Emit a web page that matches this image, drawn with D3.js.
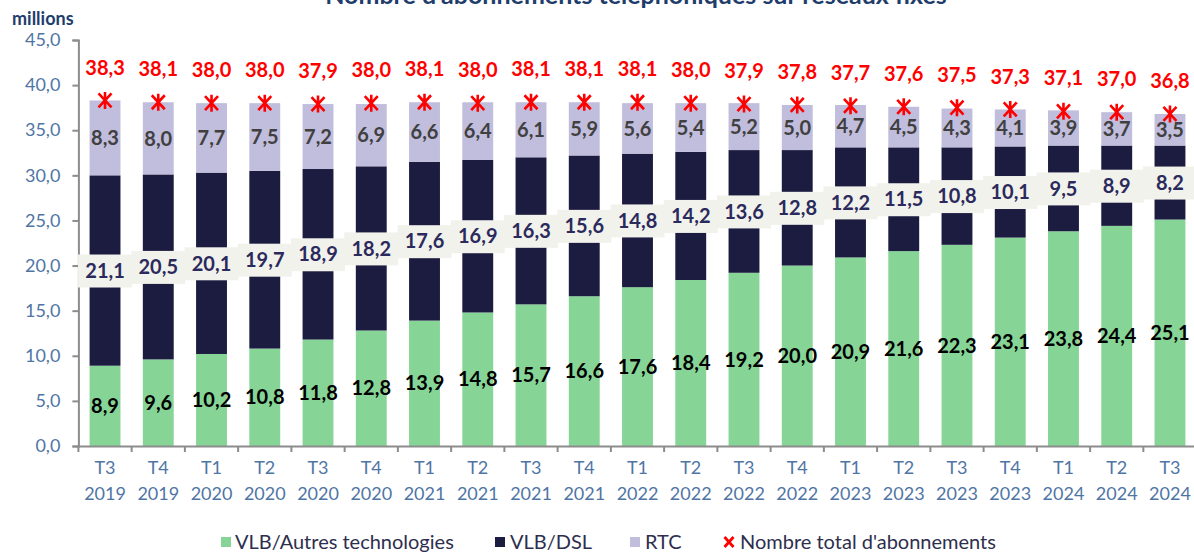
<!DOCTYPE html>
<html><head><meta charset="utf-8">
<script src="https://cdn.jsdelivr.net/npm/d3@7"></script>
<style>
html,body{margin:0;padding:0;background:#fff;}
svg{display:block;}
text{font-family:Lato,"Open Sans",sans-serif;}
</style></head>
<body>
<svg id="chart" width="1194" height="554"></svg>
<script>
const quarters = ["T3","T4","T1","T2","T3","T4","T1","T2","T3","T4","T1","T2","T3","T4","T1","T2","T3","T4","T1","T2","T3"];
const years = ["2019","2019","2020","2020","2020","2020","2021","2021","2021","2021","2022","2022","2022","2022","2023","2023","2023","2023","2024","2024","2024"];
const vlbAutres = [8.9,9.6,10.2,10.8,11.8,12.8,13.9,14.8,15.7,16.6,17.6,18.4,19.2,20.0,20.9,21.6,22.3,23.1,23.8,24.4,25.1];
const vlbDsl = [21.1,20.5,20.1,19.7,18.9,18.2,17.6,16.9,16.3,15.6,14.8,14.2,13.6,12.8,12.2,11.5,10.8,10.1,9.5,8.9,8.2];
const rtc = [8.3,8.0,7.7,7.5,7.2,6.9,6.6,6.4,6.1,5.9,5.6,5.4,5.2,5.0,4.7,4.5,4.3,4.1,3.9,3.7,3.5];
const totals = [38.3,38.1,38.0,38.0,37.9,38.0,38.1,38.0,38.1,38.1,38.1,38.0,37.9,37.8,37.7,37.6,37.5,37.3,37.1,37.0,36.8];
const seriesNames = ["VLB/Autres technologies","VLB/DSL","RTC"];
const totalName = "Nombre total d'abonnements";
const title = "Nombre d'abonnements téléphoniques sur réseaux fixes";
const yUnit = "millions";
const yTicks = [0,5,10,15,20,25,30,35,40,45];

const colors = {autres:"#86d597", dsl:"#1c1b40", rtc:"#c1bddc", total:"#ff0000"};
const cats = quarters.map((q,i)=>q+" "+years[i]);
const rows = cats.map((c,i)=>({cat:c, autres:vlbAutres[i], dsl:vlbDsl[i], rtc:rtc[i], total:totals[i]}));

const loc = d3.formatLocale({decimal:",", thousands:" ", grouping:[3], currency:["","€"]});
const fmt = loc.format(".1f");

const svg = d3.select("#chart");
const x0 = 78.4, x1 = 1196.6;
const x = d3.scaleBand().domain(cats).range([x0,x1]).paddingInner(0.42).paddingOuter(0.21);
const y = d3.scaleLinear().domain([0,45]).range([446,40]);

// title (top part cut off by the frame, as in the reference)
svg.append("text").attr("x",636).attr("y",4).attr("text-anchor","middle")
  .attr("font-size",25).attr("font-weight","bold").attr("fill","#1f3d6b").text(title);
svg.append("text").attr("x",12).attr("y",25).attr("font-size",18).attr("font-weight","bold")
  .attr("fill","#1f3d6b").text(yUnit);

// bars
const keys = ["autres","dsl","rtc"];
const stack = d3.stack().keys(keys)(rows);
const g = svg.append("g");
g.selectAll("g.s").data(stack).join("g").attr("fill",d=>colors[d.key])
  .selectAll("rect").data(d=>d).join("rect")
  .attr("x",d=>x(d.data.cat)).attr("width",x.bandwidth())
  .attr("y",d=>y(d[1])).attr("height",d=>y(d[0])-y(d[1]));

// y axis
const yAxis = svg.append("g").attr("transform",`translate(${x0},0)`)
  .call(d3.axisLeft(y).tickValues(yTicks).tickFormat(fmt).tickSize(6).tickPadding(12));
yAxis.select(".domain").attr("stroke","#8c8c8c").attr("stroke-width",2);
yAxis.selectAll(".tick line").attr("stroke","#8c8c8c").attr("stroke-width",2);
yAxis.selectAll(".tick text").attr("font-size",18).attr("fill","#4f75a5").attr("font-family","Lato");

// x axis
const xAxis = svg.append("g").attr("transform",`translate(0,${y(0)})`)
  .call(d3.axisBottom(x).tickSize(0).tickPadding(0).tickFormat(""));
xAxis.select(".domain").attr("stroke","#8c8c8c").attr("stroke-width",2);
xAxis.selectAll(".tick text").each(function(d,i){
  const t = d3.select(this).attr("font-size",18).attr("fill","#4f75a5").attr("font-family","Lato").attr("y",0);
  t.append("tspan").attr("x",0).attr("dy","1.55em").text(quarters[i]);
  t.append("tspan").attr("x",0).attr("dy","1.45em").text(years[i]);
});
const gap = (x.step()-x.bandwidth())/2;
const bounds = cats.map(c=>x(c)-gap).concat([x(cats[cats.length-1])+x.bandwidth()+gap]);
svg.append("g").selectAll("line").data(bounds).join("line")
  .attr("x1",d=>d).attr("x2",d=>d).attr("y1",y(0)).attr("y2",y(0)+6)
  .attr("stroke","#8c8c8c").attr("stroke-width",2);

const cx = d => x(d.cat)+x.bandwidth()/2;

// labels autres
svg.append("g").selectAll("text").data(rows).join("text")
  .attr("x",cx).attr("y",d=>y(d.autres/2)).attr("dy","0.36em").attr("text-anchor","middle")
  .attr("font-size",20).attr("font-weight","bold").attr("fill","#000").text(d=>fmt(d.autres));

// dsl label boxes
const dg = svg.append("g");
rows.forEach(d=>{
  const yc = y(d.autres + d.dsl/2);
  dg.append("rect").attr("x",cx(d)-27).attr("y",yc-16).attr("width",54).attr("height",33).attr("fill","#f2f2ec");
  dg.append("text").attr("x",cx(d)).attr("y",yc).attr("dy","0.36em").attr("text-anchor","middle")
    .attr("font-size",20).attr("font-weight","bold").attr("fill","#2b2a5c").text(fmt(d.dsl));
});

// rtc labels
svg.append("g").selectAll("text").data(rows).join("text")
  .attr("x",cx).attr("y",d=>y(d.autres+d.dsl+d.rtc/2)).attr("dy","0.36em").attr("text-anchor","middle")
  .attr("font-size",20).attr("font-weight","bold").attr("fill","#404040").text(d=>fmt(d.rtc));

// total markers
const mk = "M-6.5,-7L6.5,7M-6.5,7L6.5,-7M0,-8.5L0,8.5";
svg.append("g").selectAll("path").data(rows).join("path")
  .attr("transform",d=>`translate(${cx(d)},${y(d.total)})`).attr("d",mk)
  .attr("stroke",colors.total).attr("stroke-width",2.6).attr("fill","none");
svg.append("g").selectAll("text").data(rows).join("text")
  .attr("x",cx).attr("y",d=>y(d.total)-33).attr("dy","0.36em").attr("text-anchor","middle")
  .attr("font-size",20).attr("font-weight","bold").attr("fill",colors.total).text(d=>fmt(d.total));

// legend
const legend = [
  {name:seriesNames[0], color:colors.autres, x:221, tx:235, type:"sq"},
  {name:seriesNames[1], color:colors.dsl, x:495, tx:510, type:"sq"},
  {name:seriesNames[2], color:colors.rtc, x:630, tx:645, type:"sq"},
  {name:totalName, color:colors.total, x:724, tx:740, type:"x"}
];
const lg = svg.append("g");
legend.forEach(l=>{
  if(l.type==="sq"){
    lg.append("rect").attr("x",l.x).attr("y",537).attr("width",10).attr("height",10).attr("fill",l.color);
  } else {
    lg.append("path").attr("transform",`translate(${l.x+5},542)`).attr("d","M-4.5,-5L4.5,5M-4.5,5L4.5,-5")
      .attr("stroke",l.color).attr("stroke-width",2.8);
  }
  lg.append("text").attr("x",l.tx).attr("y",542).attr("dy","0.36em").attr("font-size",20)
    .attr("fill","#2e2e4e").text(l.name);
});
</script>
</body></html>
